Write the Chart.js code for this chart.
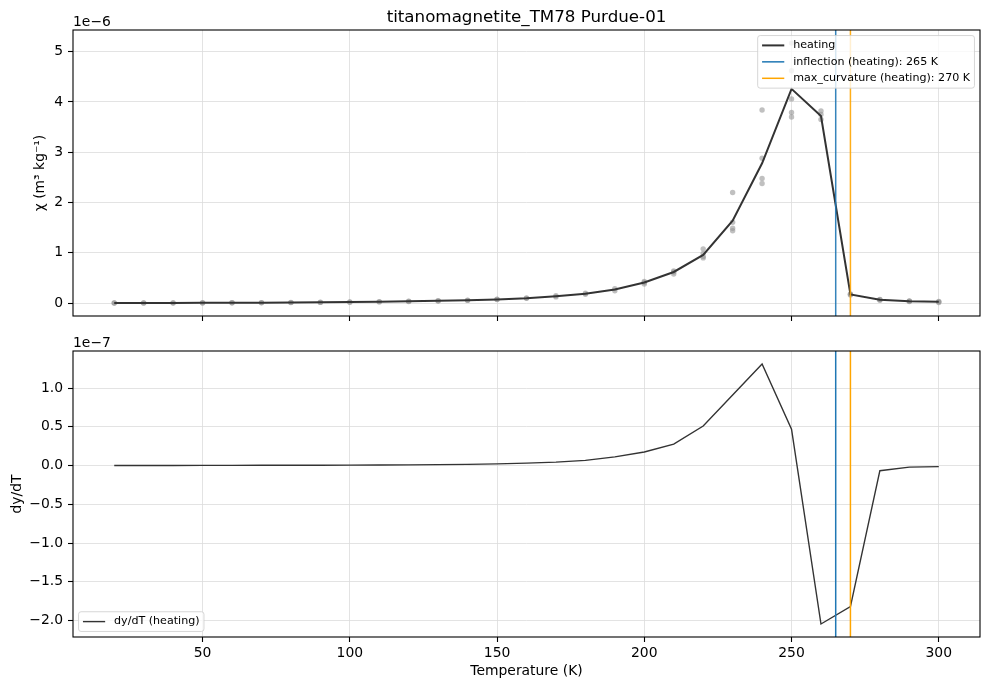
<!DOCTYPE html>
<html>
<head>
<meta charset="utf-8">
<title>titanomagnetite_TM78 Purdue-01</title>
<script src="https://cdn.jsdelivr.net/npm/chart.js@4.4.0/dist/chart.umd.min.js"></script>
<style>
  html, body { margin: 0; padding: 0; background: #fff; }
  #wrap { position: relative; width: 989px; height: 690px; }
  canvas { position: absolute; left: 0; display: block; }
  #chiChart { top: 0; }
  #derivChart { top: 333px; }
</style>
</head>
<body>
<div id="wrap">
  <canvas id="chiChart" width="989" height="333"></canvas>
  <canvas id="derivChart" width="989" height="357"></canvas>
</div>
<script>
// temperature steps (K)
const temps = [20, 30, 40, 50, 60, 70, 80, 90, 100, 110, 120, 130, 140, 150, 160,
               170, 180, 190, 200, 210, 220, 230, 240, 250, 260, 270, 280, 290, 300];

// mean susceptibility, heating (x 1e-6 m3/kg)
const chiMean = [0.003, 0.004, 0.005, 0.006, 0.008, 0.010, 0.013, 0.017, 0.022, 0.028,
                 0.036, 0.046, 0.058, 0.075, 0.100, 0.138, 0.188, 0.270, 0.410, 0.620,
                 0.960, 1.640, 2.780, 4.260, 3.720, 0.173, 0.068, 0.040, 0.026];

// derivative dy/dT, heating (x 1e-7)
const dChi = [0.001, 0.001, 0.001, 0.0015, 0.002, 0.0035, 0.0035, 0.0045, 0.0055, 0.007,
              0.009, 0.011, 0.0145, 0.021, 0.0315, 0.044, 0.066, 0.111, 0.175, 0.275,
              0.51, 0.91, 1.31, 0.47, -2.045, -1.82, -0.067, -0.021, -0.014];

// raw measurements (grey dots), x 1e-6
const rawTemps = [20, 20, 30, 30, 40, 40, 50, 50, 60, 60, 70, 70, 80, 80, 90, 90,
                  100, 100, 110, 110, 120, 120, 130, 130, 140, 140, 150, 150, 160, 160,
                  170, 170, 180, 180, 190, 190, 200, 200, 200, 210, 210, 210,
                  220, 220, 220, 220, 230, 230, 230, 230, 240, 240, 240, 240,
                  250, 250, 250, 250, 250, 260, 260, 260, 270, 270, 270,
                  280, 280, 280, 290, 290, 290, 300, 300, 300];
const rawChi = [0.002, 0.004, 0.003, 0.005, 0.004, 0.006, 0.005, 0.007, 0.007, 0.009,
                0.009, 0.011, 0.011, 0.015, 0.015, 0.019, 0.020, 0.024, 0.025, 0.031,
                0.033, 0.039, 0.043, 0.049, 0.055, 0.061, 0.072, 0.078, 0.096, 0.104,
                0.125, 0.150, 0.178, 0.198, 0.245, 0.290, 0.380, 0.410, 0.430, 0.580, 0.620, 0.640,
                0.900, 0.930, 0.990, 1.080, 1.440, 1.490, 1.610, 2.200, 2.380, 2.480, 2.880, 3.840,
                3.700, 3.790, 4.060, 4.620, 5.170, 3.650, 3.750, 3.820, 0.160, 0.175, 0.185,
                0.058, 0.070, 0.075, 0.032, 0.040, 0.046, 0.014, 0.026, 0.035];

const inflectionT = 265;
const maxCurvT = 270;

const xTicks = [50, 100, 150, 200, 250, 300];
const chiTicks = [0, 1, 2, 3, 4, 5];
const dTicks = [-2.0, -1.5, -1.0, -0.5, 0.0, 0.5, 1.0];

const FONT = "'DejaVu Sans', sans-serif";
const DARK = '#333333';
const BLUE = '#1f77b4';
const ORANGE = '#ffa500';

function minus(s) { return s.replace('-', '\u2212'); }

function vline(t, color, width, order) {
  return {
    type: 'line',
    data: [{ x: t, y: -100 }, { x: t, y: 100 }],
    borderColor: color,
    borderWidth: width,
    pointRadius: 0,
    clip: 0,
    order: order
  };
}

function drawLegend(ctx, a, lg) {
  const fs = 11.1;
  ctx.font = `${fs}px ${FONT}`;
  const pad = 4.4, handle = 22.2, gap = 8.9, rowH = 10.9, rowGap = 5.55, off = 5.55;
  const textW = Math.max(...lg.items.map(it => ctx.measureText(it.label).width));
  const w = pad + handle + gap + textW + pad;
  const h = pad * 2 + lg.items.length * rowH + (lg.items.length - 1) * rowGap;
  const x = lg.loc === 'upper right' ? a.right - off - w : a.left + off;
  const y = lg.loc === 'upper right' ? a.top + off : a.bottom - off - h;

  ctx.beginPath();
  if (ctx.roundRect) ctx.roundRect(x, y, w, h, 2.5);
  else ctx.rect(x, y, w, h);
  ctx.fillStyle = 'rgba(255,255,255,0.8)';
  ctx.fill();
  ctx.strokeStyle = 'rgba(204,204,204,0.8)';
  ctx.lineWidth = 1;
  ctx.stroke();

  lg.items.forEach((it, i) => {
    const cy = y + pad + rowH / 2 + i * (rowH + rowGap);
    ctx.beginPath();
    ctx.moveTo(x + pad, cy);
    ctx.lineTo(x + pad + handle, cy);
    ctx.strokeStyle = it.color;
    ctx.lineWidth = it.width;
    ctx.stroke();
    ctx.fillStyle = '#000';
    ctx.textAlign = 'left';
    ctx.textBaseline = 'middle';
    ctx.fillText(it.label, x + pad + handle + gap, cy);
  });
}

// spines, offset text, title and matplotlib-like legend
function framePlugin(opts) {
  return {
    id: 'frame',
    afterDraw(chart) {
      const { ctx, chartArea: a } = chart;
      ctx.save();
      ctx.strokeStyle = '#000';
      ctx.lineWidth = 1.1;
      ctx.strokeRect(a.left, a.top, a.right - a.left, a.bottom - a.top);

      ctx.fillStyle = '#000';
      ctx.font = `13.9px ${FONT}`;
      ctx.textAlign = 'left';
      ctx.textBaseline = 'alphabetic';
      ctx.fillText(opts.offsetText, a.left, a.top - 4);

      if (opts.title) {
        ctx.font = `16.7px ${FONT}`;
        ctx.textAlign = 'center';
        ctx.fillText(opts.title, (a.left + a.right) / 2, a.top - 8);
      }
      drawLegend(ctx, a, opts.legend);
      ctx.restore();
    }
  };
}

function xScale(showLabels) {
  return {
    type: 'linear',
    min: 6,
    max: 314,
    afterBuildTicks: s => { s.ticks = xTicks.map(v => ({ value: v })); },
    afterFit: s => { s.height = showLabels ? 53 : 17; },
    ticks: {
      display: showLabels,
      color: '#000',
      padding: 3,
      font: { family: FONT, size: 13.9 },
      callback: v => String(v)
    },
    grid: { color: '#dcdcdc', lineWidth: 0.8, drawTicks: true, tickLength: 5, tickColor: '#000', tickWidth: 1.1 },
    border: { display: false },
    title: {
      display: showLabels,
      text: 'Temperature (K)',
      color: '#000',
      font: { family: FONT, size: 13.9 },
      padding: { top: 0, bottom: 10.2 }
    }
  };
}

function yScale(min, max, ticks, fmt, label, titlePad) {
  return {
    type: 'linear',
    min: min,
    max: max,
    afterBuildTicks: s => { s.ticks = ticks.map(v => ({ value: v })); },
    afterFit: s => { s.width = 73; },
    ticks: {
      color: '#000',
      padding: 5,
      font: { family: FONT, size: 13.9 },
      callback: fmt
    },
    grid: { color: '#dcdcdc', lineWidth: 0.8, drawTicks: true, tickLength: 5, tickColor: '#000', tickWidth: 1.1 },
    border: { display: false },
    title: {
      display: true,
      text: label,
      color: '#000',
      font: { family: FONT, size: 13.9 },
      padding: { top: titlePad, bottom: 0 }
    }
  };
}

const baseOptions = {
  responsive: false,
  animation: false,
  devicePixelRatio: 1,
  plugins: { legend: { display: false }, tooltip: { enabled: false }, title: { display: false } }
};

new Chart(document.getElementById('chiChart').getContext('2d'), {
  type: 'line',
  data: {
    datasets: [
      {
        type: 'scatter',
        data: rawTemps.map((t, i) => ({ x: t, y: rawChi[i] })),
        showLine: false,
        pointRadius: 2.7,
        pointBorderWidth: 0,
        pointBackgroundColor: 'rgba(150,150,150,0.6)',
        order: 4
      },
      {
        data: temps.map((t, i) => ({ x: t, y: chiMean[i] })),
        borderColor: DARK,
        borderWidth: 2,
        pointRadius: 0,
        tension: 0,
        order: 3
      },
      vline(inflectionT, 'rgba(31,119,180,0.9)', 1.5, 2),
      vline(maxCurvT, 'rgba(255,165,0,0.9)', 1.5, 1)
    ]
  },
  options: {
    ...baseOptions,
    layout: { padding: { left: 0, right: 9, top: 30, bottom: 0 } },
    scales: {
      x: xScale(false),
      y: yScale(-0.255, 5.43, chiTicks, v => String(v), 'χ (m³ kg⁻¹)', 31.7)
    }
  },
  plugins: [framePlugin({
    title: 'titanomagnetite_TM78 Purdue-01',
    offsetText: '1e\u22126',
    legend: {
      loc: 'upper right',
      items: [
        { label: 'heating', color: DARK, width: 2 },
        { label: 'inflection (heating): ' + inflectionT + ' K', color: BLUE, width: 1.5 },
        { label: 'max_curvature (heating): ' + maxCurvT + ' K', color: ORANGE, width: 1.5 }
      ]
    }
  })]
});

new Chart(document.getElementById('derivChart').getContext('2d'), {
  type: 'line',
  data: {
    datasets: [
      {
        data: temps.map((t, i) => ({ x: t, y: dChi[i] })),
        borderColor: DARK,
        borderWidth: 1.4,
        pointRadius: 0,
        tension: 0,
        order: 3
      },
      vline(inflectionT, BLUE, 1.5, 2),
      vline(maxCurvT, ORANGE, 1.5, 1)
    ]
  },
  options: {
    ...baseOptions,
    layout: { padding: { left: 0, right: 9, top: 18, bottom: 0 } },
    scales: {
      x: xScale(true),
      y: yScale(-2.213, 1.478, dTicks, v => minus(v.toFixed(1)), 'dy/dT', 8.7)
    }
  },
  plugins: [framePlugin({
    offsetText: '1e\u22127',
    legend: {
      loc: 'lower left',
      items: [{ label: 'dy/dT (heating)', color: DARK, width: 1.4 }]
    }
  })]
});
</script>
</body>
</html>
